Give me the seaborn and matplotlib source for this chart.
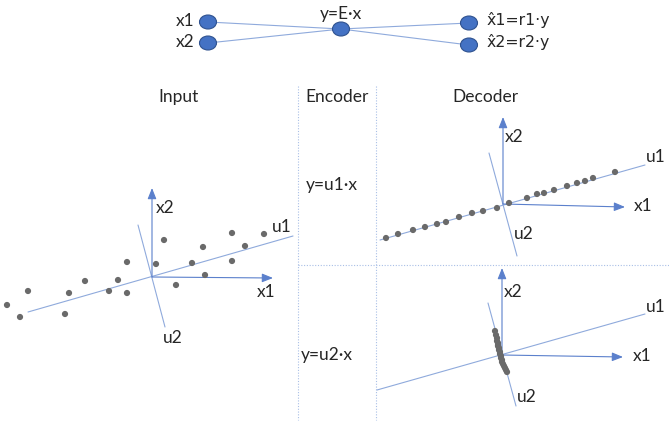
import matplotlib
matplotlib.use("Agg")
import matplotlib.pyplot as plt
from matplotlib.patches import Ellipse
import numpy as np
import pandas as pd
import seaborn as sns

sns.set_theme(style="white")
plt.rcParams['font.family'] = ['Lato', 'DejaVu Sans']

# ---------------- data (local panel coordinates, y up) ----------------
input_x = [-145, -132, -124, -87, -83, -67, -43, -34, -25, -25, 4, 12, 24, 40, 51, 53, 80, 80, 93, 112]
input_y = [-28, -40, -14, -37, -16, -4, -14, -3, -16, 15, 13, 37, -8, 14, 30, 2, 44, 16, 31, 43]

dec_u1_x = [-117, -105, -90, -78, -66, -57, -44, -31, -20, -6, 6, 24, 34, 41, 51, 64, 74, 82, 90, 112]
dec_u1_y = [-34, -30, -26, -23, -20, -18, -13, -9, -7, -4, 1, 6, 10, 11, 14, 18, 21, 23, 26, 32]

dec_u2_x = [-7, -6, -5, -5, -4, -4, -3, -3, -2, -2, -1, -1, 0, 0, 1, 2, 3, 4, 5, -4]
dec_u2_y = [24, 20, 17, 14, 12, 9, 7, 5, 3, 1, -1, -3, -5, -7, -9, -11, -13, -15, -17, 10]

section_titles = ["Input", "Encoder", "Decoder"]
encoder_labels = ["y=u1\u00b7x", "y=u2\u00b7x"]
net_left_labels = ["x1", "x2"]
net_mid_label = "y=E\u00b7x"
net_right_labels = ["x\u03021=r1\u00b7y", "x\u03022=r2\u00b7y"]

# ---------------- figure ----------------
W, H = 669, 426
fig = plt.figure(figsize=(W / 100, H / 100), dpi=100)
ax = fig.add_axes([0, 0, 1, 1])
ax.set_xlim(0, W)
ax.set_ylim(H, 0)
ax.axis("off")

TXT = "#262626"
LINE = "#8faadc"
ARROW = "#5b80cc"
DOT = "#6a6a6a"
NODE = "#4472c4"
NODE_EDGE = "#2f528f"
GRID = "#a9bfe6"
FS = 12.5

# ---------------- network at top ----------------
left_nodes = [(208, 22), (208, 43)]
mid_node = (341, 29)
right_nodes = [(469, 23), (469, 45)]
for (lx, ly), (rx, ry) in zip(left_nodes, right_nodes[::-1]):
    ax.plot([lx, mid_node[0], rx], [ly, mid_node[1], ry], color=LINE, lw=0.8, zorder=1)
for (cx, cy) in left_nodes + [mid_node] + right_nodes:
    ax.add_patch(Ellipse((cx, cy), 17, 14, facecolor=NODE, edgecolor=NODE_EDGE, lw=0.8, zorder=3))
for (cx, cy), lab in zip(left_nodes, net_left_labels):
    ax.text(cx - 14, cy - 1, lab, ha="right", va="center", fontsize=FS, color=TXT)
ax.text(mid_node[0], 14, net_mid_label, ha="center", va="center", fontsize=FS, color=TXT)
for (cx, cy), lab in zip(right_nodes, net_right_labels):
    ax.text(cx + 18, cy - 3, lab, ha="left", va="center", fontsize=11.3, color=TXT,
            family=["DejaVu Sans"])

# ---------------- section titles & separators ----------------
for xc, t in zip([178, 337, 485], section_titles):
    ax.text(xc, 97, t, ha="center", va="center", fontsize=FS, color=TXT)
for xv in [298, 376]:
    ax.plot([xv, xv], [86, 420], color=GRID, lw=0.8, ls=(0, (1, 1.5)), zorder=0)
ax.plot([298, W], [265, 265], color=GRID, lw=0.8, ls=(0, (1, 1.5)), zorder=0)
ax.text(332, 185, encoder_labels[0], ha="center", va="center", fontsize=FS, color=TXT)
ax.text(327, 355, encoder_labels[1], ha="center", va="center", fontsize=FS, color=TXT)


# ---------------- coordinate panels ----------------
def panel(ox, oy, u1a, u1b, u2a, u2b, x1_end, x2_len, labs, px, py):
    # u1 and u2 lines
    ax.plot([ox + u1a[0], ox + u1b[0]], [oy - u1a[1], oy - u1b[1]], color=LINE, lw=0.8, zorder=1)
    ax.plot([ox + u2a[0], ox + u2b[0]], [oy - u2a[1], oy - u2b[1]], color=LINE, lw=0.8, zorder=1)
    # axes arrows
    ap = dict(arrowstyle="-|>,head_length=0.55,head_width=0.22", color=ARROW, lw=0.8,
              shrinkA=0, shrinkB=0)
    ax.annotate("", xy=(ox + x1_end[0], oy - x1_end[1]), xytext=(ox, oy), arrowprops=ap, zorder=2)
    ax.annotate("", xy=(ox, oy - x2_len), xytext=(ox, oy), arrowprops=ap, zorder=2)
    for (lx, ly), t in labs:
        ax.text(lx, ly, t, ha="center", va="center", fontsize=FS, color=TXT)
    df = pd.DataFrame({"x": np.asarray(px) + ox, "y": oy - np.asarray(py)})
    sns.scatterplot(data=df, x="x", y="y", ax=ax, color=DOT, s=20, edgecolor="none",
                    legend=False, zorder=4)


panel(152, 277, (-124, -35), (141, 41), (-14, 52), (13, -50), (121, -1), 89,
      [((165, 208), "x2"), ((266, 292), "x1"), ((282, 227), "u1"), ((173, 338), "u2")],
      input_x, input_y)
panel(503, 204, (-123, -36), (142, 39), (-14, 51), (14, -52), (122, -3), 87,
      [((514, 137), "x2"), ((643, 206), "x1"), ((656, 157), "u1"), ((524, 234), "u2")],
      dec_u1_x, dec_u1_y)
panel(502, 355, (-125, -35), (143, 41), (-14, 52), (14, -51), (121, -2), 87,
      [((513, 292), "x2"), ((642, 356), "x1"), ((656, 307), "u1"), ((527, 397), "u2")],
      dec_u2_x, dec_u2_y)

ax.set_xlim(0, W)
ax.set_ylim(H, 0)
ax.set_xlabel("")
ax.set_ylabel("")
fig.savefig("out.png", dpi=100)
